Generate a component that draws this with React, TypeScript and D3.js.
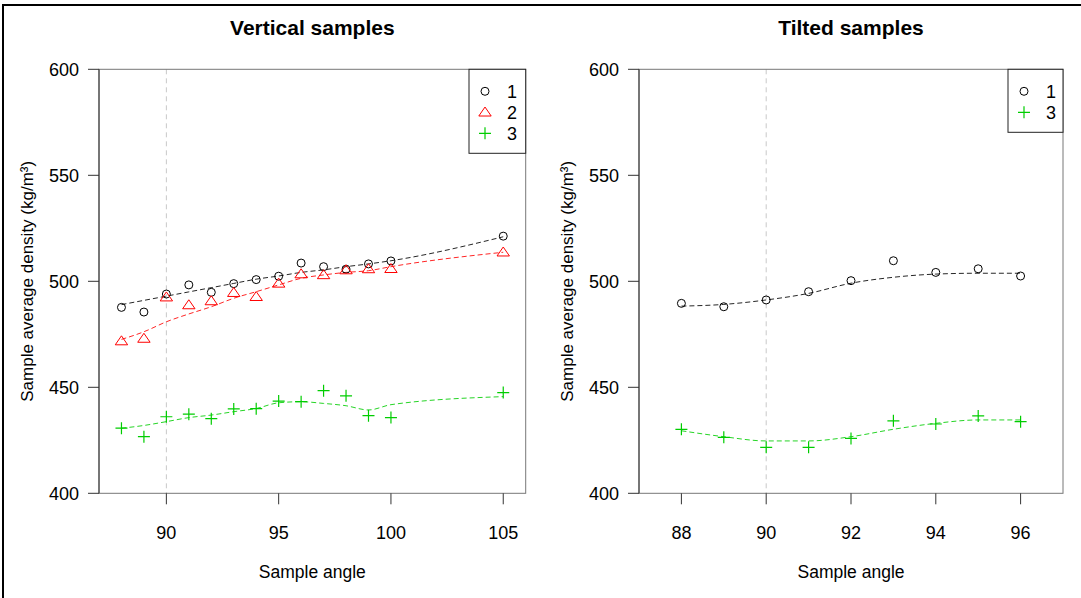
import React from "react";
import * as d3 from "d3";

// ---- data ----
const leftAngles = [88, 89, 90, 91, 92, 93, 94, 95, 96, 97, 98, 99, 100, 105];
const leftS1 = [487.7, 485.5, 494, 498.3, 494.8, 498.9, 500.8, 502.4, 508.6, 506.9, 505.7, 508.2, 509.6, 521.3];
const leftS1Fit = [489, 491, 493, 495, 497, 499, 501, 502.5, 504.2, 505.4, 506.9, 508.2, 509.7, 521];
const leftS2 = [471.8, 473, 492.5, 488.8, 490.7, 494.6, 492.7, 499, 503.4, 503, 505.3, 505.8, 505.9, 513.7];
const leftS2Fit = [472.6, 476.2, 480.9, 484.6, 488, 492, 495.1, 498.3, 501.4, 503, 504.2, 505, 506.9, 513.7];
const leftS3 = [430.7, 426.7, 436.1, 437.3, 435.2, 439.8, 439.9, 443.5, 443.2, 448.4, 446, 436.6, 435.7, 447.5];
const leftS3Fit = [430.7, 432, 433.8, 435.7, 436.9, 438.5, 440, 442.7, 443.2, 442.4, 441.3, 439.3, 441.8, 445.6];

const rightAngles = [88, 89, 90, 91, 92, 93, 94, 95, 96];
const rightS1 = [489.6, 488, 491.2, 495.1, 500.3, 509.7, 504.2, 505.9, 502.5];
const rightS1Fit = [488.3, 489.1, 491.2, 494.3, 499.1, 501.9, 503.4, 503.8, 503.8];
const rightS3 = [430.2, 426.4, 421.7, 421.7, 425.9, 434.2, 432.7, 436.5, 433.8];
const rightS3Fit = [429.5, 426.7, 424.7, 424.7, 426.7, 430.2, 433, 434.6, 434.6];

const yTicks = [400, 450, 500, 550, 600];
const leftXTicks = [90, 95, 100, 105];
const rightXTicks = [88, 90, 92, 94, 96];

const FONT = "'Liberation Sans', Arial, sans-serif";
const RED = "#FF0000";
const GREEN = "#00CD00";

type Series = { vals: number[]; fit: number[]; color: string; shape: "circle" | "triangle" | "plus"; label: string };

function Marker({ shape, x, y, color }: { shape: string; x: number; y: number; color: string }) {
  if (shape === "circle") return <circle cx={x} cy={y} r={4} fill="none" stroke={color} strokeWidth={1} />;
  if (shape === "triangle") {
    const s = 6.2;
    return (
      <path
        d={`M${x},${y - s * 0.85}L${x + s},${y + s * 0.6}L${x - s},${y + s * 0.6}Z`}
        fill="none"
        stroke={color}
        strokeWidth={1}
      />
    );
  }
  const a = 6;
  return <path d={`M${x - a},${y}H${x + a}M${x},${y - a}V${y + a}`} stroke={color} strokeWidth={1.2} fill="none" />;
}

function Panel(props: {
  left: number;
  right: number;
  title: string;
  xDomain: [number, number];
  xTicks: number[];
  angles: number[];
  series: Series[];
  legendLeft: number;
}) {
  const top = 69.3;
  const bottom = 493.3;
  const x = d3.scaleLinear().domain(props.xDomain).range([props.left, props.right]);
  const y = d3.scaleLinear().domain([400, 600]).range([bottom, top]);
  const line = d3
    .line<number>()
    .x((_, i) => x(props.angles[i]))
    .y((d) => y(d))
    .curve(d3.curveMonotoneX);
  const cx = (props.left + props.right) / 2;
  const cy = (top + bottom) / 2;
  const legendH = 14 + props.series.length * 21;
  return (
    <g fontFamily={FONT}>
      <text x={cx} y={35} textAnchor="middle" fontWeight="bold" fontSize={21}>
        {props.title}
      </text>
      {/* reference line at 90 */}
      <line x1={x(90)} x2={x(90)} y1={top} y2={bottom} stroke="#c8c8c8" strokeDasharray="5,4" strokeWidth={1} />
      {/* frame */}
      <rect x={props.left} y={top} width={props.right - props.left} height={bottom - top} fill="none" stroke="#777" strokeWidth={1} />
      {/* y axis */}
      <line x1={props.left} x2={props.left} y1={top} y2={bottom} stroke="#333" />
      {yTicks.map((t) => (
        <g key={t}>
          <line x1={props.left - 11} x2={props.left} y1={y(t)} y2={y(t)} stroke="#333" />
          <text x={props.left - 20} y={y(t)} dy="0.35em" textAnchor="end" fontSize={18}>
            {t}
          </text>
        </g>
      ))}
      {/* x axis ticks */}
      {props.xTicks.map((t) => (
        <g key={t}>
          <line x1={x(t)} x2={x(t)} y1={bottom} y2={bottom + 11} stroke="#333" />
          <text x={x(t)} y={539} textAnchor="middle" fontSize={18}>
            {t}
          </text>
        </g>
      ))}
      <text x={cx} y={578} textAnchor="middle" fontSize={17.5}>
        Sample angle
      </text>
      <text
        transform={`translate(${props.left - 66},${cy}) rotate(-90)`}
        textAnchor="middle"
        fontSize={17}
      >
        Sample average density (kg/m³)
      </text>
      {/* fits */}
      {props.series.map((s) => (
        <path key={"f" + s.label} d={line(s.fit) || ""} fill="none" stroke={s.color} strokeDasharray="5,3" strokeWidth={1} opacity={0.85} />
      ))}
      {/* points */}
      {props.series.map((s) =>
        s.vals.map((v, i) => <Marker key={s.label + i} shape={s.shape} x={x(props.angles[i])} y={y(v)} color={s.color} />)
      )}
      {/* legend */}
      <rect x={props.legendLeft} y={top} width={props.right - props.legendLeft} height={legendH + 7} fill="white" stroke="#222" strokeWidth={1} />
      {props.series.map((s, i) => (
        <g key={"l" + s.label}>
          <Marker shape={s.shape} x={props.legendLeft + 16} y={top + 22 + i * 21} color={s.color} />
          <text x={props.legendLeft + 38} y={top + 22 + i * 21} dy="0.35em" fontSize={18}>
            {s.label}
          </text>
        </g>
      ))}
    </g>
  );
}

export default function App() {
  const leftSeries: Series[] = [
    { vals: leftS1, fit: leftS1Fit, color: "#000", shape: "circle", label: "1" },
    { vals: leftS2, fit: leftS2Fit, color: RED, shape: "triangle", label: "2" },
    { vals: leftS3, fit: leftS3Fit, color: GREEN, shape: "plus", label: "3" },
  ];
  const rightSeries: Series[] = [
    { vals: rightS1, fit: rightS1Fit, color: "#000", shape: "circle", label: "1" },
    { vals: rightS3, fit: rightS3Fit, color: GREEN, shape: "plus", label: "3" },
  ];
  return (
    <svg width={1081} height={598} style={{ position: "absolute", left: 0, top: 0, background: "white" }}>
      <rect x={0} y={0} width={1081} height={598} fill="white" />
      <line x1={3} x2={1081} y1={5} y2={5} stroke="#000" strokeWidth={2} />
      <line x1={3} x2={3} y1={4} y2={598} stroke="#000" strokeWidth={2} />
      <Panel
        left={99}
        right={525.7}
        title="Vertical samples"
        xDomain={[87, 106]}
        xTicks={leftXTicks}
        angles={leftAngles}
        series={leftSeries}
        legendLeft={469}
      />
      <Panel
        left={639}
        right={1063}
        title="Tilted samples"
        xDomain={[87, 97]}
        xTicks={rightXTicks}
        angles={rightAngles}
        series={rightSeries}
        legendLeft={1008}
      />
    </svg>
  );
}
